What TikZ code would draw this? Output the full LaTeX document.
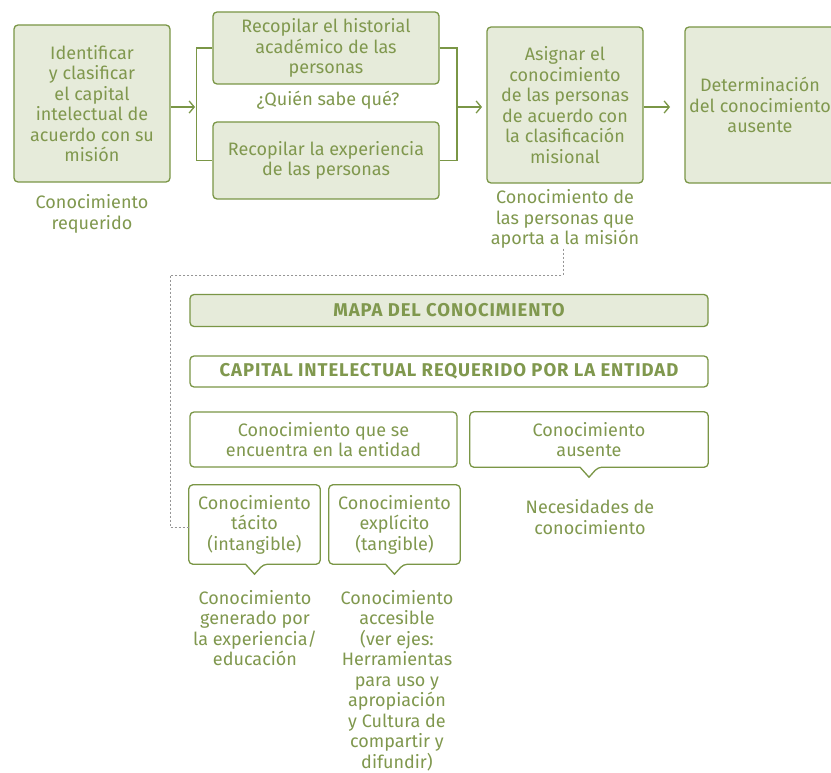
\documentclass[tikz,border=0pt]{standalone}
\usepackage{fontspec}
\setmainfont{Fira Sans}
\newfontfamily\capsfont[LetterSpace=5]{Fira Sans}
\usetikzlibrary{arrows.meta}
\definecolor{gline}{RGB}{122,150,70}
\definecolor{gtext}{RGB}{128,152,78}
\definecolor{gfill}{RGB}{230,235,218}
\definecolor{gdot}{RGB}{150,150,150}
\begin{document}
\begin{tikzpicture}[x=1pt,y=-1pt,
 txt/.style={align=center, text=gtext, inner sep=0pt, font=\fontsize{18}{20.5}\selectfont},
 box/.style={txt, draw=gline, line width=1.3pt, rounded corners=4pt},
 fbox/.style={box, fill=gfill},
 callout/.style={txt},
 capsbox/.style={box, font=\capsfont\bfseries\fontsize{18.5}{20}\selectfont},
 conn/.style={draw=gline, line width=1.3pt},
 arr/.style={conn, -{Straight Barb[length=5pt,width=12pt]}},
 dots/.style={draw=gdot, line width=0.9pt, dash pattern=on 2pt off 2pt},
]
\fill[white] (0,0) rectangle (831,773);
\useasboundingbox (0,0) rectangle (831,773);
\clip (0,0) rectangle (831,773);

% top row
\node[fbox, minimum width=156pt, minimum height=157pt] (n1) at (92,103.5)
  {Identificar\\y clasificar\\el capital\\intelectual de\\acuerdo con su\\misión};
\node[fbox, minimum width=226pt, minimum height=72pt] (n2) at (326,48)
  {Recopilar el historial\\académico de las\\personas};
\node[fbox, minimum width=226pt, minimum height=77pt] (n3) at (326,160.5)
  {Recopilar la experiencia\\de las personas};
\node[fbox, minimum width=156pt, minimum height=156pt] (n4) at (565,105)
  {Asignar el\\conocimiento\\de las personas\\de acuerdo con\\la clasificación\\misional};
\node[fbox, minimum width=160pt, minimum height=156pt] (n5) at (765,105) {};
\node[txt] (n5t) at (760,105) {Determinación\\del conocimiento\\ausente};

\node[txt] (l1) at (92,214) {Conocimiento\\requerido};
\node[txt] (lq) at (328,100) {¿Quién sabe qué?};
\node[txt] (l4) at (565,219) {Conocimiento de\\las personas que\\aporta a la misión};

% brackets and arrows
\coordinate (bl) at (195,107);
\coordinate (br) at (457,107);
\coordinate (a4) at (482,107);
\coordinate (a5) at (670,107);
\draw[conn] (n2.west) -- ++(-16,0) |- (n3.west);
\draw[conn] (n2.east) -- (br |- n2.east) |- (n3.east);
\draw[arr] (n1.east |- bl) -- (bl);
\draw[arr] (br) -- (a4);
\draw[arr] (n4.east |- a5) -- (a5);

% knowledge map
\node[capsbox, fill=gfill, minimum width=518pt, minimum height=32pt] (mapa) at (449,310.5)
  {MAPA DEL CONOCIMIENTO};
\node[capsbox, minimum width=518pt, minimum height=31pt] (cap) at (449,371.5)
  {CAPITAL INTELECTUAL REQUERIDO POR LA ENTIDAD};
\node[box, minimum width=267pt, minimum height=55pt] (enc) at (323.5,439.5)
  {Conocimiento que se\\encuentra en la entidad};
\node[callout, minimum width=238pt, minimum height=55pt] (aus) at (589,439.5)
  {Conocimiento\\ausente};
\node[callout, minimum width=131pt, minimum height=79pt] (tac) at (254.5,524.5)
  {Conocimiento\\tácito\\(intangible)};
\node[callout, minimum width=131pt, minimum height=79pt] (exp) at (394.5,524.5)
  {Conocimiento\\explícito\\(tangible)};

\foreach \n in {aus,tac,exp}{
  \draw[conn, rounded corners=4pt] ([xshift=-9pt]\n.south) -- (\n.south west) -- (\n.north west)
    -- (\n.north east) -- (\n.south east) -- ([xshift=9pt]\n.south)
    [sharp corners] -- ([yshift=-10pt]\n.south) -- cycle;
}

\node[txt] (lnec) at (590,517) {Necesidades de\\conocimiento};
\node[txt] (ltac) at (255,628) {Conocimiento\\generado por\\la experiencia/\\educación};
\node[txt] (lexp) at (397,680.5) {Conocimiento\\accesible\\(ver ejes:\\Herramientas\\para uso y\\apropiación\\y Cultura de\\compartir y\\difundir)};

% dotted connector
\coordinate (d1) at (563,275);
\coordinate (d2) at (170,275);
\coordinate (d3) at (170,527);
\draw[dots] (d1 |- l4.south) -- (d1) -- (d2) -- (d3) -- (tac.west |- d3);
\end{tikzpicture}
\end{document}
